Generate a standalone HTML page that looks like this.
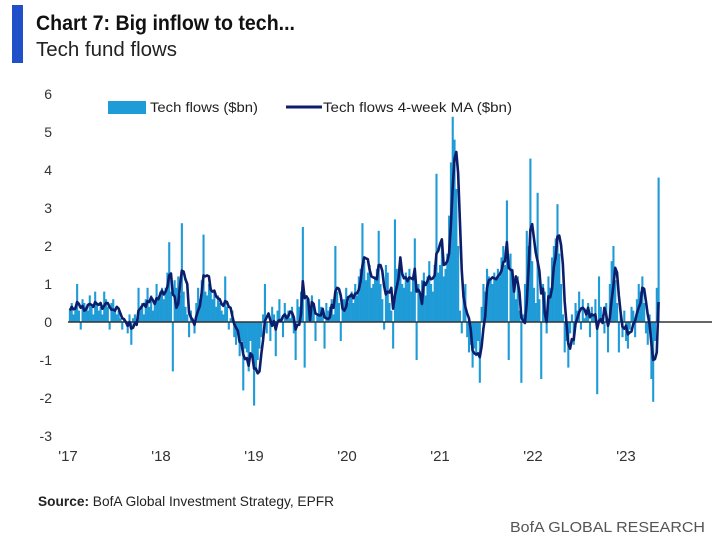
<!DOCTYPE html>
<html><head><meta charset="utf-8"><style>
body{margin:0;background:#fff;width:720px;height:540px;overflow:hidden;font-family:"Liberation Sans",sans-serif;}
svg{position:absolute;left:0;top:0}
</style></head><body>
<svg id="chart" width="720" height="540">
  <rect x="12" y="5" width="11" height="58" fill="#1f4fc9"/>
  <text x="36" y="30" font-size="21" font-weight="bold" fill="#111" textLength="259" lengthAdjust="spacingAndGlyphs">Chart 7: Big inflow to tech...</text>
  <text x="36" y="56" font-size="20" fill="#222" textLength="141" lengthAdjust="spacingAndGlyphs">Tech fund flows</text>
  <g id="yaxis"></g>
  <g id="xaxis"></g>
  <g id="bars"></g>
  <line id="zero" stroke="#333" stroke-width="1.5"/>
  <path id="ma" fill="none" stroke="#0c1d6b" stroke-width="2.6" stroke-linejoin="round"/>
  <g>
    <rect x="108" y="101" width="38" height="13" fill="#1f9bd7"/>
    <text x="150" y="112" font-size="14" fill="#222" textLength="108" lengthAdjust="spacingAndGlyphs">Tech flows ($bn)</text>
    <line x1="286" y1="107" x2="322" y2="107" stroke="#0c1d6b" stroke-width="3"/>
    <text x="323" y="112" font-size="14" fill="#222" textLength="189" lengthAdjust="spacingAndGlyphs">Tech flows 4-week MA ($bn)</text>
  </g>
  <text x="38" y="506" font-size="14" fill="#222" textLength="296" lengthAdjust="spacingAndGlyphs"><tspan font-weight="bold">Source:</tspan> BofA Global Investment Strategy, EPFR</text>
  <text x="705" y="532" font-size="15" fill="#555" text-anchor="end" textLength="195" lengthAdjust="spacingAndGlyphs">BofA GLOBAL RESEARCH</text>
</svg>
<script>
const yTicks=[6,5,4,3,2,1,0,-1,-2,-3];
const yTickLabels=["6","5","4","3","2","1","0","-1","-2","-3"];
const xTickYears=[2017,2018,2019,2020,2021,2022,2023];
const xTickLabels=["'17","'18","'19","'20","'21","'22","'23"];
const flows2017=[0.3,0.5,0.2,0.4,1.0,0.3,-0.2,0.6,0.5,0.4,0.3,0.7,0.4,0.2,0.8,0.5,0.3,0.4,0.2,0.8,0.6,0.4,-0.2,0.5,0.6,0.3,0.2,0.3,0.1,-0.2,0.1,0.0,-0.3,0.2,-0.6,0.1,0.2,0.0,0.9,0.3,0.5,0.2,0.6,0.9,0.4,0.7,0.3,0.5,1.0,0.6,0.8,0.9];
const flows2018=[0.6,0.9,1.3,2.1,0.8,-1.3,1.1,0.9,1.2,0.7,2.6,0.8,0.4,0.2,-0.4,0.3,0.1,-0.3,0.5,0.9,0.6,1.1,2.3,0.8,0.7,1.0,0.9,0.6,0.8,0.4,0.7,0.5,0.3,0.2,1.2,0.4,-0.2,0.1,0.3,-0.4,-0.6,-0.2,-0.9,-0.5,-1.8,-0.7,-0.8,-1.3,-0.5,-0.9,-2.2,-1.3];
const flows2019=[-1.0,-0.7,-0.4,0.2,1.0,-0.3,0.0,-0.5,0.4,0.2,-0.9,0.3,0.6,0.1,-0.4,0.5,0.2,0.3,0.1,0.4,-0.3,-1.0,0.6,0.4,0.8,2.5,-1.2,0.6,0.5,0.3,0.7,0.4,-0.5,0.2,0.6,0.4,0.2,-0.7,0.5,0.3,0.4,0.6,0.2,2.0,0.8,0.5,-0.5,0.6,0.6,0.9,0.5,0.7];
const flows2020=[0.8,0.5,1.0,0.7,1.2,1.4,2.6,1.6,1.1,1.3,1.5,0.9,1.0,1.2,1.4,2.4,1.0,0.6,-0.2,1.5,1.3,0.5,0.3,-0.7,2.7,1.4,1.2,1.5,1.0,0.9,1.3,1.1,1.4,0.8,1.2,2.2,-1.0,1.0,0.8,1.1,1.3,0.7,1.2,1.6,1.0,0.8,1.5,3.9,1.3,1.5,2.0,1.2];
const flows2021=[1.4,1.8,2.8,4.2,5.4,4.8,3.5,2.0,0.3,-0.3,0.6,1.0,-0.4,-0.8,-0.6,-1.2,-0.7,-0.9,-0.5,-1.6,0.4,1.0,0.8,1.4,1.2,1.1,1.0,1.3,1.1,1.4,1.2,1.7,2.0,1.5,3.2,-1.0,1.8,1.4,1.0,0.6,1.2,0.3,-1.6,0.2,1.0,2.4,2.0,4.3,1.6,0.9,0.5,3.4];
const flows2022=[0.6,-1.5,1.0,0.8,-0.3,1.2,0.9,1.7,2.0,2.2,3.1,1.8,1.0,0.2,-0.8,-0.5,-1.2,-0.3,0.2,-0.6,0.5,0.3,0.8,-0.2,0.6,0.1,0.3,0.5,-0.4,0.4,0.2,0.6,-1.9,1.2,0.4,0.2,-0.3,0.5,-0.8,1.0,1.6,2.0,1.1,0.5,-0.8,0.2,-0.4,0.3,-0.5,-0.7,-0.2,0.4];
const flows2023=[0.3,-0.4,0.6,1.0,0.8,1.2,0.5,-0.3,-0.6,0.2,-1.5,-2.1,-0.5,0.9,3.8];
const flows=[].concat(flows2017,flows2018,flows2019,flows2020,flows2021,flows2022,flows2023);
const ma=flows.map((v,i)=>{const s=flows.slice(Math.max(0,i-3),i+1);return s.reduce((a,b)=>a+b,0)/s.length;});

const NS="http://www.w3.org/2000/svg";
function xYear(yr){return 68+(yr-2017)*93;}
function xWeek(i){return xYear(2017.02+i/51.5);}
function yVal(v){return 322-38*v;}

const yaxis=document.getElementById('yaxis');
yTicks.forEach((t,k)=>{
  const el=document.createElementNS(NS,'text');
  el.setAttribute('x',52);el.setAttribute('y',yVal(t)+5);
  el.setAttribute('text-anchor','end');el.setAttribute('font-size','14');el.setAttribute('fill','#333');
  el.textContent=yTickLabels[k];
  
  
  yaxis.appendChild(el);
});
const xaxis=document.getElementById('xaxis');
xTickYears.forEach((yr,k)=>{
  const el=document.createElementNS(NS,'text');
  el.setAttribute('x',xYear(yr));el.setAttribute('y',461);
  el.setAttribute('text-anchor','middle');el.setAttribute('font-size','15');el.setAttribute('fill','#333');
  el.textContent=xTickLabels[k];
  
  
  xaxis.appendChild(el);
});
const bars=document.getElementById('bars');
flows.forEach((v,i)=>{
  const r=document.createElementNS(NS,'rect');
  const x=xWeek(i);
  r.setAttribute('x',(x-1).toFixed(2));r.setAttribute('width','2.1');
  r.setAttribute('y',Math.min(yVal(v),yVal(0)).toFixed(2));
  r.setAttribute('height',Math.abs(yVal(v)-yVal(0)).toFixed(2));
  r.setAttribute('fill','#1f9bd7');
  
  
  bars.appendChild(r);
});
const z=document.getElementById('zero');
z.setAttribute('x1',68);z.setAttribute('x2',712);z.setAttribute('y1',yVal(0));z.setAttribute('y2',yVal(0));
document.getElementById('ma').setAttribute('d',ma.map((v,i)=>(i?'L':'M')+xWeek(i).toFixed(2)+','+yVal(v).toFixed(2)).join(''));
</script>
</body></html>
